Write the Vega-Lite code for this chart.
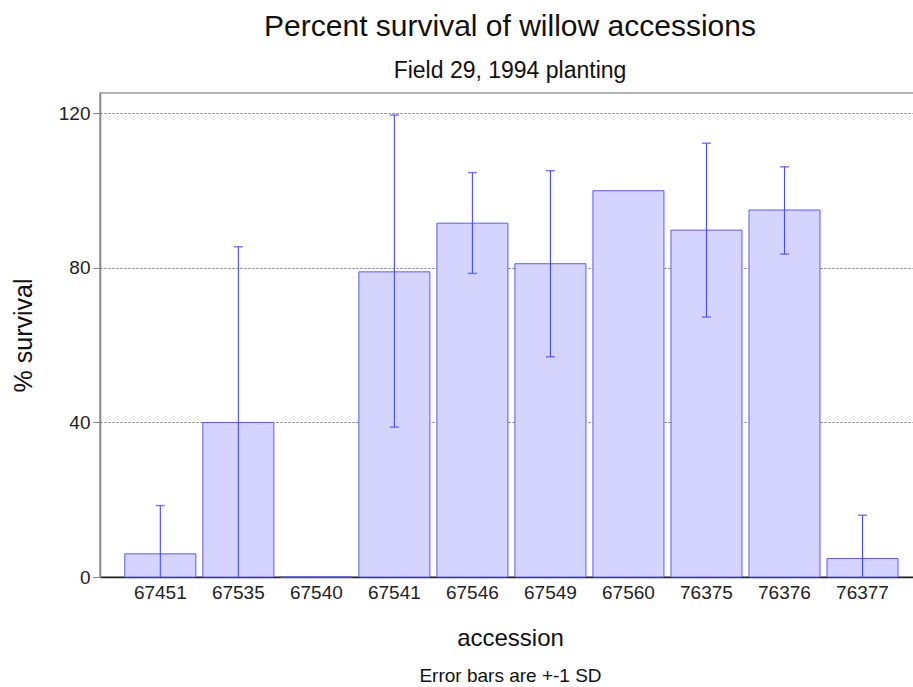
{
  "$schema": "https://vega.github.io/schema/vega-lite/v6.json",
  "autosize": "none",
  "width": 820,
  "height": 484,
  "padding": {"left": 100, "top": 93, "right": -7, "bottom": 110},
  "background": "white",
  "title": {
    "text": "Percent survival of willow accessions",
    "subtitle": "Field 29, 1994 planting",
    "font": "Liberation Sans",
    "subtitleFont": "Liberation Sans",
    "fontSize": 30,
    "subtitleFontSize": 23,
    "fontWeight": "normal",
    "color": "#111",
    "subtitleColor": "#111",
    "anchor": "middle",
    "offset": 10,
    "subtitlePadding": 18
  },
  "config": {
    "font": "Liberation Sans",
    "view": {"stroke": "#999", "strokeWidth": 1.5}
  },
  "data": {
    "values": [
      {"accession": "67451", "survival": 6, "low": 0, "high": 18.5},
      {"accession": "67535", "survival": 40, "low": 0, "high": 85.5},
      {"accession": "67540", "survival": 0, "low": 0, "high": 0},
      {"accession": "67541", "survival": 79, "low": 38.8, "high": 119.6},
      {"accession": "67546", "survival": 91.6, "low": 78.6, "high": 104.7},
      {"accession": "67549", "survival": 81.1, "low": 57, "high": 105.2},
      {"accession": "67560", "survival": 100, "low": 100, "high": 100},
      {"accession": "76375", "survival": 89.8, "low": 67.3, "high": 112.3},
      {"accession": "76376", "survival": 95, "low": 83.6, "high": 106.2},
      {"accession": "76377", "survival": 4.8, "low": 0, "high": 16}
    ]
  },
  "resolve": {"axis": {"x": "independent"}},
  "layer": [
    {
      "mark": {"type": "bar", "fill": "#d4d4ff", "stroke": "#5a5aff", "strokeWidth": 1},
      "encoding": {
        "x": {
          "field": "accession", "type": "nominal", "sort": null,
          "scale": {"paddingInner": 0.09, "paddingOuter": 0.3, "align": 0.53},
          "axis": {
            "orient": "bottom",
            "title": "accession", "titleFontSize": 24, "titleFontWeight": "normal", "titleColor": "#111",
            "titlePadding": 24,
            "labelAngle": 0, "labelFontSize": 19, "labelColor": "#222", "labelPadding": 6,
            "ticks": false, "domainColor": "#222", "domainWidth": 1.5
          }
        },
        "y": {
          "field": "survival", "type": "quantitative",
          "scale": {"domain": [0, 125.3], "nice": false},
          "axis": {
            "title": "% survival", "titleFontSize": 25, "titleFontWeight": "normal", "titleColor": "#111",
            "titlePadding": 22,
            "values": [0, 40, 80, 120],
            "labelFontSize": 19, "labelColor": "#222", "labelPadding": 3,
            "tickSize": 7, "tickColor": "#888",
            "domainColor": "#888", "domainWidth": 1.5,
            "grid": true, "gridColor": "#777", "gridDash": [2, 2], "gridWidth": 1
          }
        }
      }
    },
    {
      "transform": [{"filter": "datum.high > datum.low"}],
      "mark": {"type": "rule", "color": "#4848ff", "strokeWidth": 1.1},
      "encoding": {
        "x": {
          "field": "accession", "type": "nominal", "sort": null,
          "axis": {
            "orient": "bottom", "offset": 83,
            "title": "Error bars are +-1 SD", "titleFontSize": 19, "titleFontWeight": "normal", "titleColor": "#111",
            "titlePadding": 6, "labels": false, "ticks": false, "domain": false
          }
        },
        "y": {"field": "low", "type": "quantitative"},
        "y2": {"field": "high"}
      }
    },
    {
      "transform": [{"filter": "datum.high > datum.low"}],
      "mark": {"type": "tick", "color": "#4848ff", "size": 9, "thickness": 1.5},
      "encoding": {
        "x": {"field": "accession", "type": "nominal", "sort": null, "axis": null},
        "y": {"field": "high", "type": "quantitative"}
      }
    },
    {
      "transform": [{"filter": "datum.low > 0 && datum.high > datum.low"}],
      "mark": {"type": "tick", "color": "#4848ff", "size": 9, "thickness": 1.5},
      "encoding": {
        "x": {"field": "accession", "type": "nominal", "sort": null, "axis": null},
        "y": {"field": "low", "type": "quantitative"}
      }
    }
  ]
}
